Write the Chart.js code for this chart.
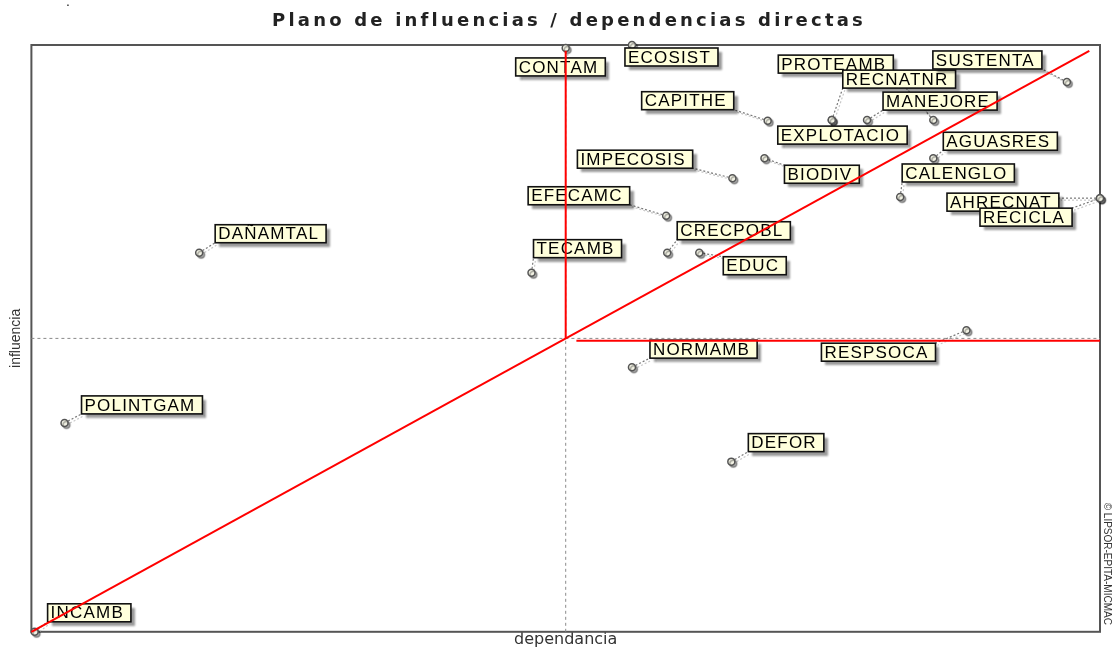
<!DOCTYPE html>
<html>
<head>
<meta charset="utf-8">
<script src="https://cdn.jsdelivr.net/npm/chart.js@4.4.0/dist/chart.umd.min.js"></script>
<style>
    html, body { margin: 0; padding: 0; background: #fff; }
    #wrap { width: 1112px; height: 647px; }
</style>
</head>
<body>
<div id="wrap"><canvas id="plano"></canvas></div>
<script>
// variables del plano MICMAC (influencias / dependencias directas)
const variables = ['CONTAM', 'ECOSIST', 'PROTEAMB', 'RECNATNR', 'SUSTENTA', 'CAPITHE', 'MANEJORE',
    'EXPLOTACIO', 'AGUASRES', 'IMPECOSIS', 'BIODIV', 'CALENGLO', 'EFECAMC', 'AHRECNAT', 'RECICLA',
    'DAÑAMTAL', 'CRECPOBL', 'TECAMB', 'EDUC', 'NORMAMB', 'RESPSOCA', 'POLINTGAM', 'DEFOR', 'INCAMB'];
const dependencia = [50.0, 56.2, 84.4, 74.9, 96.9, 68.9, 78.2,
    74.9, 84.4, 65.6, 68.6, 81.3, 59.4, 100, 100,
    15.7, 59.5, 46.8, 62.5, 56.2, 87.5, 3.1, 65.5, 0.3];
const influencia = [99.5, 100, 87.2, 87.2, 93.7, 87.1, 87.2,
    87.2, 80.7, 77.3, 80.7, 74.1, 70.9, 73.9, 73.9,
    64.6, 64.6, 61.2, 64.6, 45.1, 51.4, 35.6, 29.0, 0];

// medias (ejes punteados) y lineas rojas
const mediaX = 50;
const mediaY = 50;
const diagonalX = [0, 99];
const diagonalY = [0, 99];
const limiteVX = [50, 50];
const limiteVY = [50, 99];
const limiteHX = [51, 100];
const limiteHY = [49.6, 49.6];

// posicion de cada etiqueta respecto a su punto (px)
const labelOffsets = [[-50, 10], [-7, 3], [-155, -65], [11, -50], [-134, -31], [-126, -29], [16, -28],
    [-54, 6], [10, -26], [-155, -28], [20, 7], [2, -33], [-138, -29], [-153, -5], [-120, 10],
    [16, -28], [10, -31], [2, -33], [24, 4], [18, -27], [-145, 13], [17, -27], [17, -28], [13, -28]];

const toPoints = (xs, ys) => xs.map((x, i) => ({x: x, y: ys[i]}));

const labelFont = '17px "Liberation Sans", Arial, sans-serif';
const boxH = 18;

function boxFor(ctx, el, i) {
    ctx.font = labelFont;
    ctx.letterSpacing = '1.2px';
    const w = ctx.measureText(variables[i]).width + 10;
    const left = el.x + labelOffsets[i][0];
    const top = el.y + labelOffsets[i][1];
    return {left: left, top: top, right: left + w, bottom: top + boxH};
}

const etiquetas = {
    id: 'etiquetas',
    beforeDatasetDraw(chart, args) {
        if (args.index !== 0) return;
        const ctx = chart.ctx;
        ctx.save();
        // lineas guia punteadas
        args.meta.data.forEach((el, i) => {
            const b = boxFor(ctx, el, i);
            const cx = Math.min(Math.max(el.x, b.left), b.right);
            const cy = Math.min(Math.max(el.y, b.top), b.bottom);
            ctx.setLineDash([2, 2]);
            ctx.lineWidth = 1.2;
            ctx.strokeStyle = '#c8c8c8';
            ctx.beginPath();
            ctx.moveTo(el.x + 2, el.y + 2);
            ctx.lineTo(cx + 2, cy + 2);
            ctx.stroke();
            ctx.strokeStyle = '#777';
            ctx.beginPath();
            ctx.moveTo(el.x, el.y);
            ctx.lineTo(cx, cy);
            ctx.stroke();
        });
        ctx.restore();
        ctx.save();
        ctx.shadowColor = 'rgba(0,0,0,0.35)';
        ctx.shadowOffsetX = 2;
        ctx.shadowOffsetY = 2;
        ctx.shadowBlur = 1;
    },
    afterDatasetDraw(chart, args) {
        if (args.index !== 0) return;
        const ctx = chart.ctx;
        ctx.restore();
        ctx.save();
        args.meta.data.forEach((el, i) => {
            const b = boxFor(ctx, el, i);
            ctx.save();
            ctx.shadowColor = 'rgba(0,0,0,0.4)';
            ctx.shadowOffsetX = 4;
            ctx.shadowOffsetY = 4;
            ctx.shadowBlur = 2;
            ctx.fillStyle = '#ffffdc';
            ctx.fillRect(b.left, b.top, b.right - b.left, boxH);
            ctx.restore();
            ctx.lineWidth = 1.6;
            ctx.strokeStyle = '#111';
            ctx.strokeRect(b.left, b.top, b.right - b.left, boxH);
            ctx.fillStyle = '#000';
            ctx.textBaseline = 'middle';
            ctx.textAlign = 'left';
            ctx.fillText(variables[i], b.left + 3, b.top + boxH / 2 + 1);
        });
        ctx.restore();
    }
};

const marco = {
    id: 'marco',
    beforeDatasetsDraw(chart) {
        const {ctx, chartArea: a} = chart;
        ctx.save();
        ctx.lineWidth = 2;
        ctx.strokeStyle = '#555';
        ctx.strokeRect(a.left, a.top, a.right - a.left, a.bottom - a.top);
        ctx.restore();
    },
    afterDraw(chart) {
        const {ctx, chartArea: a} = chart;
        ctx.save();
        ctx.fillStyle = '#222';
        ctx.font = 'bold 18px "DejaVu Sans", Verdana, sans-serif';
        ctx.letterSpacing = '3.2px';
        ctx.textAlign = 'center';
        ctx.textBaseline = 'middle';
        ctx.fillText('Plano de influencias / dependencias directas', 569, 21);
        ctx.letterSpacing = '0px';
        ctx.font = '10px "Liberation Sans", Arial, sans-serif';
        ctx.fillStyle = '#333';
        ctx.translate(a.right + 7, a.bottom - 68);
        ctx.rotate(Math.PI / 2);
        ctx.fillText('© LIPSOR-EPITA-MICMAC', 0, 0);
        ctx.restore();
        ctx.save();
        ctx.fillStyle = '#222';
        ctx.font = '14px "Liberation Sans", Arial, sans-serif';
        ctx.fillText('.', 66, 6);
        ctx.restore();
    }
};

const lineaRoja = {
    type: 'line', borderColor: '#ff0000', borderWidth: 2, pointRadius: 0,
    showLine: true, fill: false, order: 0, clip: false
};
const lineaMedia = {
    type: 'line', borderColor: '#8a8a8a', borderWidth: 1, borderDash: [3, 3],
    pointRadius: 0, showLine: true, fill: false, order: 3, clip: false
};

let ctx = document.getElementById('plano').getContext('2d');
const chartPlano = new Chart(ctx, {
    type: 'scatter',
    data: {
        datasets: [{
            label: 'variables',
            data: toPoints(dependencia, influencia),
            pointRadius: 3.5,
            pointBorderWidth: 1.5,
            pointBorderColor: '#555',
            pointBackgroundColor: '#f4f4e6',
            order: 2,
            clip: false
        },
        Object.assign({data: toPoints(diagonalX, diagonalY)}, lineaRoja),
        Object.assign({data: toPoints(limiteVX, limiteVY)}, lineaRoja),
        Object.assign({data: toPoints(limiteHX, limiteHY)}, lineaRoja),
        Object.assign({data: toPoints([mediaX, mediaX], [0, 100])}, lineaMedia),
        Object.assign({data: toPoints([0, 100], [mediaY, mediaY])}, lineaMedia)]
    },
    options: {
        responsive: true,
        maintainAspectRatio: false,
        animation: false,
        events: [],
        layout: {autoPadding: false, padding: {left: 4, right: 12, top: 45, bottom: 0}},
        plugins: {
            legend: {display: false},
            tooltip: {enabled: false}
        },
        scales: {
            x: {
                type: 'linear', min: 0, max: 100,
                grid: {display: false, drawTicks: false}, border: {display: false},
                ticks: {display: false},
                title: {
                    display: true, text: 'dependancia', color: '#333',
                    font: {family: '"DejaVu Sans", Verdana, sans-serif', size: 16, lineHeight: 0.95},
                    padding: {top: 0, bottom: 0}
                }
            },
            y: {
                type: 'linear', min: 0, max: 100,
                grid: {display: false, drawTicks: false}, border: {display: false},
                ticks: {display: false},
                title: {
                    display: true, text: 'influencia', color: '#333',
                    font: {family: '"Liberation Sans", Arial, sans-serif', size: 14, lineHeight: 1.1},
                    padding: {top: 4, bottom: 8}
                }
            }
        }
    },
    plugins: [marco, etiquetas]
});
</script>
</body>
</html>
